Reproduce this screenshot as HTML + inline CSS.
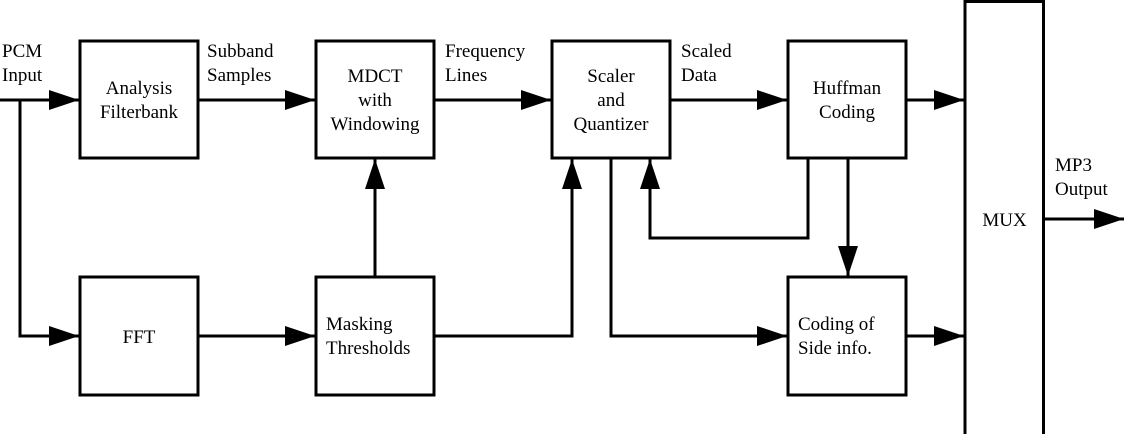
<!DOCTYPE html>
<html><head><meta charset="utf-8"><style>
html,body{margin:0;padding:0;background:#fff;}
#w{position:relative;width:1124px;height:434px;overflow:hidden;}
svg{position:absolute;left:0;top:0;display:block;}
.t{position:absolute;font-family:"Liberation Serif","Times New Roman","DejaVu Serif",serif;font-size:19px;line-height:24px;color:#000;white-space:nowrap;}
.c{text-align:center;width:118px;}
</style></head><body><div id="w">
<svg width="1124" height="434" viewBox="0 0 1124 434" xmlns="http://www.w3.org/2000/svg">
<defs>
<marker id="a" markerWidth="30" markerHeight="22" refX="30" refY="11" orient="auto" markerUnits="userSpaceOnUse">
<path d="M0,1 L30,11 L0,21 Z" fill="#000"/>
</marker>
</defs>
<g fill="none" stroke="#000" stroke-width="3">
<rect x="80" y="41" width="118" height="117"/>
<rect x="316" y="41" width="118" height="117"/>
<rect x="552" y="41" width="118" height="117"/>
<rect x="788" y="41" width="118" height="117"/>
<rect x="80" y="277" width="118" height="118"/>
<rect x="316" y="277" width="118" height="118"/>
<rect x="788" y="277" width="118" height="118"/>
<path d="M965,440 V1.5 H1043.5 V440"/>
<path d="M0,100 H79" marker-end="url(#a)"/>
<path d="M20,100 V336 H79" marker-end="url(#a)"/>
<path d="M198,100 H315" marker-end="url(#a)"/>
<path d="M434,100 H551" marker-end="url(#a)"/>
<path d="M670,100 H787" marker-end="url(#a)"/>
<path d="M906,100 H964" marker-end="url(#a)"/>
<path d="M198,336 H315" marker-end="url(#a)"/>
<path d="M375,277 V159" marker-end="url(#a)"/>
<path d="M434,336 H572 V159" marker-end="url(#a)"/>
<path d="M611,158 V336 H787" marker-end="url(#a)"/>
<path d="M808,158 V238 H650 V159" marker-end="url(#a)"/>
<path d="M848,158 V276" marker-end="url(#a)"/>
<path d="M906,336 H964" marker-end="url(#a)"/>
<path d="M1043,219 H1124" marker-end="url(#a)"/>
</g>
</svg>
<div class="t" style="left:2px;top:40px">PCM<br>Input</div>
<div class="t" style="left:207px;top:40px">Subband<br>Samples</div>
<div class="t" style="left:445px;top:40px">Frequency<br>Lines</div>
<div class="t" style="left:681px;top:40px">Scaled<br>Data</div>
<div class="t" style="left:1055px;top:154px">MP3<br>Output</div>
<div class="t c" style="left:80px;top:77px">Analysis<br>Filterbank</div>
<div class="t c" style="left:316px;top:65px">MDCT<br>with<br>Windowing</div>
<div class="t c" style="left:552px;top:65px">Scaler<br>and<br>Quantizer</div>
<div class="t c" style="left:788px;top:77px">Huffman<br>Coding</div>
<div class="t c" style="left:80px;top:326px">FFT</div>
<div class="t" style="left:965px;top:209px;width:79px;text-align:center">MUX</div>
<div class="t" style="left:326px;top:313px">Masking<br>Thresholds</div>
<div class="t" style="left:798px;top:313px">Coding of<br>Side info.</div>
</div></body></html>
